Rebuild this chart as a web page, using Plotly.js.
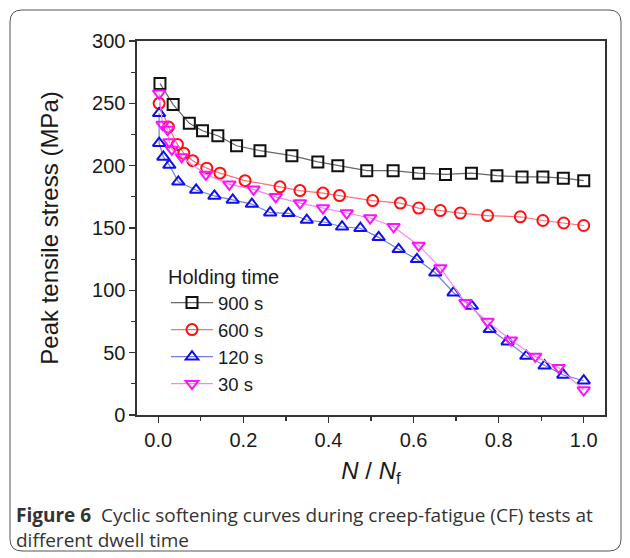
<!DOCTYPE html>
<html>
<head>
<meta charset="utf-8">
<script src="https://cdn.plot.ly/plotly-3.0.1.min.js"></script>
<style>
  html, body { margin: 0; padding: 0; background: #ffffff; }
  #chart { width: 630px; height: 558px; }
</style>
</head>
<body>
<div id="chart"></div>
<script>
// ---- Data ----
const seriesNames = ["900 s", "600 s", "120 s", "30 s"];

const x900 = [0.004, 0.035, 0.073, 0.104, 0.14, 0.184, 0.239, 0.314, 0.375, 0.422, 0.49, 0.552, 0.612, 0.675, 0.736, 0.796, 0.855, 0.904, 0.952, 1.0];
const y900 = [266, 249, 234, 228, 224, 216, 212, 208, 203, 200, 196, 196, 194, 193, 194, 192, 191, 191, 190, 188];

const x600 = [0.002, 0.024, 0.045, 0.06, 0.081, 0.114, 0.145, 0.204, 0.286, 0.333, 0.387, 0.426, 0.504, 0.569, 0.612, 0.663, 0.71, 0.774, 0.851, 0.904, 0.953, 1.0];
const y600 = [250, 231, 217, 210, 204, 198, 194, 188, 183, 180, 178, 176, 172, 170, 166, 164, 162, 160, 159, 156, 154, 152];

const x120 = [0.002, 0.002, 0.012, 0.026, 0.047, 0.089, 0.132, 0.175, 0.22, 0.263, 0.306, 0.349, 0.392, 0.432, 0.475, 0.518, 0.565, 0.608, 0.651, 0.694, 0.737, 0.779, 0.821, 0.865, 0.908, 0.952, 1.0];
const y120 = [242, 218, 207, 200.5, 187, 180.5, 175.7, 172.5, 169.2, 162.3, 161.8, 156.4, 154.6, 151, 149.8, 142.5, 132.9, 124.9, 114.1, 98.1, 87.4, 68.7, 58.8, 47.3, 39.5, 32.1, 27.5];

const x30 = [0.002, 0.01, 0.022, 0.026, 0.032, 0.055, 0.112, 0.167, 0.224, 0.276, 0.333, 0.387, 0.443, 0.498, 0.553, 0.612, 0.663, 0.722, 0.774, 0.829, 0.886, 0.941, 1.0];
const y30 = [258, 233, 229, 219, 213, 207, 193, 185, 181, 175, 170, 166, 162, 158, 151, 136, 118, 90, 75, 60, 47, 38, 20];

const xTickVals = [0, 0.2, 0.4, 0.6, 0.8, 1.0];
const xTickText = ["0.0", "0.2", "0.4", "0.6", "0.8", "1.0"];
const yTickVals = [0, 50, 100, 150, 200, 250, 300];

const legendTitle = "Holding time";
const xTitle = "<i>N</i> / <i>N</i><sub>f</sub>";
const yTitle = "Peak tensile stress (MPa)";
const captionText = "<b>Figure 6</b>  Cyclic softening curves during creep-fatigue (CF) tests at<br>different dwell time";

// ---- Traces ----
function trace(x, y, name, symbol, mColor, lColor) {
  return {
    type: "scatter", mode: "lines+markers", x: x, y: y, name: name,
    line: { color: lColor, width: 1.2 },
    marker: { symbol: symbol, size: 11, color: mColor, line: { color: mColor, width: 2 } }
  };
}
const data = [
  trace(x900, y900, seriesNames[0], "square-open", "#111111", "#666666"),
  trace(x600, y600, seriesNames[1], "circle-open", "#ff1010", "#ff7070"),
  trace(x120, y120, seriesNames[2], "triangle-up-open", "#1010ee", "#7080e0"),
  trace(x30, y30, seriesNames[3], "triangle-down-open", "#ff10ff", "#ff80ff")
];

// paper-coordinate helpers for the plot area (l=137, r=605, t=41, b=415)
const L = 137, R = 605, T = 41, B = 415;
const px = v => (v - L) / (R - L);
const py = v => (B - v) / (B - T);

const x0 = px(10), x1 = px(621), y0 = py(551), y1 = py(10);
const rx = 12 / (R - L), ry = 12 / (B - T);
const borderPath = `M ${x0 + rx},${y1} L ${x1 - rx},${y1} Q ${x1},${y1} ${x1},${y1 - ry} ` +
  `L ${x1},${y0 + ry} Q ${x1},${y0} ${x1 - rx},${y0} L ${x0 + rx},${y0} Q ${x0},${y0} ${x0},${y0 + ry} ` +
  `L ${x0},${y1 - ry} Q ${x0},${y1} ${x0 + rx},${y1} Z`;

const SANS = "Liberation Sans";
const axisFont = { family: SANS, size: 20, color: "#1a1a1a" };

const layout = {
  width: 630, height: 558,
  margin: { l: L, r: 630 - R, t: T, b: 558 - B, pad: 0 },
  paper_bgcolor: "#ffffff", plot_bgcolor: "#ffffff",
  font: { family: SANS, size: 20, color: "#1a1a1a" },
  showlegend: true,
  legend: {
    x: px(166), y: py(258), xanchor: "left", yanchor: "top",
    bgcolor: "rgba(0,0,0,0)",
    font: { family: SANS, size: 18.5, color: "#1a1a1a" },
    title: { text: legendTitle, font: { family: SANS, size: 20, color: "#1a1a1a" } },
    tracegroupgap: 0, itemwidth: 42
  },
  xaxis: {
    range: [-0.05, 1.05], tickvals: xTickVals, ticktext: xTickText,
    ticks: "outside", ticklen: 6, tickwidth: 1.3, tickcolor: "#333",
    minor: { ticks: "outside", ticklen: 4, tickwidth: 1.2, tickcolor: "#333", dtick: 0.1, tick0: 0 },
    showgrid: false, zeroline: false, showline: true, mirror: true,
    linecolor: "#333", linewidth: 1.6,
    tickfont: axisFont,
    title: { text: xTitle, font: { family: SANS, size: 24, color: "#1a1a1a" }, standoff: 12 }
  },
  yaxis: {
    range: [0, 300], tickvals: yTickVals,
    ticks: "outside", ticklen: 6, tickwidth: 1.3, tickcolor: "#333",
    minor: { ticks: "outside", ticklen: 4, tickwidth: 1.2, tickcolor: "#333", dtick: 25, tick0: 0 },
    showgrid: false, zeroline: false, showline: true, mirror: true,
    linecolor: "#333", linewidth: 1.6,
    tickfont: axisFont,
    title: { text: yTitle, font: { family: SANS, size: 24, color: "#1a1a1a" }, standoff: 26 }
  },
  shapes: [
    { type: "path", xref: "paper", yref: "paper", path: borderPath, line: { color: "#555555", width: 1 }, layer: "below" }
  ],
  annotations: [
    {
      xref: "paper", yref: "paper", x: px(14), y: py(500), xanchor: "left", yanchor: "top",
      align: "left", showarrow: false, text: captionText,
      font: { family: "Open Sans", size: 19, color: "#333333" }
    }
  ]
};

Plotly.newPlot("chart", data, layout, { displayModeBar: false, staticPlot: true });
</script>
</body>
</html>
